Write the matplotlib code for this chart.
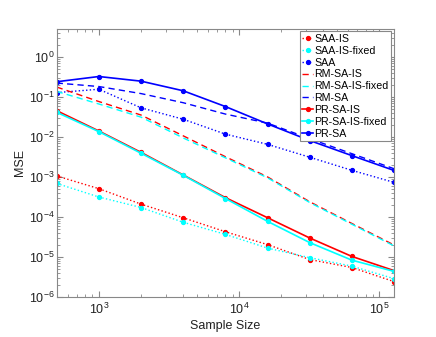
import matplotlib
matplotlib.use("Agg")
import matplotlib.pyplot as plt
from matplotlib.ticker import LogLocator, NullFormatter

plt.rcParams['font.family'] = ['Liberation Sans', 'DejaVu Sans']
plt.rcParams['mathtext.fontset'] = 'custom'
plt.rcParams['mathtext.rm'] = 'Liberation Sans'
plt.rcParams['mathtext.it'] = 'Liberation Sans:italic'
plt.rcParams['mathtext.bf'] = 'Liberation Sans:bold'

sample_sizes = [500, 1000, 2000, 4000, 8000, 16000, 32000, 64000, 128000]

saa_is = [1.06e-3, 5.1e-4, 2.1e-4, 9.6e-5, 4.3e-5, 2.05e-5, 8.7e-6, 5.5e-6, 2.45e-6]
saa_is_fixed = [6.9e-4, 3.16e-4, 1.73e-4, 7.4e-5, 3.7e-5, 1.68e-5, 9.7e-6, 5.96e-6, 2.9e-6]
saa = [0.127, 0.154, 0.053, 0.0275, 0.0117, 0.0065, 0.0031, 0.00146, 0.00073]
rm_sa_is = [0.175, 0.076, 0.035, 0.0106, 0.0032, 0.001, 2.4e-4, 6.9e-5, 2.0e-5]
rm_sa_is_fixed = [0.136, 0.066, 0.031, 0.0094, 0.003, 9.5e-4, 2.3e-4, 6.6e-5, 1.9e-5]
rm_sa = [0.22, 0.18, 0.12, 0.071, 0.037, 0.022, 0.009, 0.0038, 0.0016]
pr_sa_is = [0.045, 0.014, 0.0041, 1.12e-3, 3.05e-4, 9.6e-5, 3.0e-5, 1.04e-5, 4.6e-6]
pr_sa_is_fixed = [0.041, 0.0135, 0.0039, 1.1e-3, 2.9e-4, 7.8e-5, 2.3e-5, 8.4e-6, 4.4e-6]
pr_sa = [0.237, 0.32, 0.245, 0.141, 0.057, 0.021, 0.0081, 0.0034, 0.00145]

series = [
    ("SAA-IS", saa_is, "#ff0000", ":", "o"),
    ("SAA-IS-fixed", saa_is_fixed, "#00ffff", ":", "o"),
    ("SAA", saa, "#0000ff", ":", "o"),
    ("RM-SA-IS", rm_sa_is, "#ff0000", "--", None),
    ("RM-SA-IS-fixed", rm_sa_is_fixed, "#00ffff", "--", None),
    ("RM-SA", rm_sa, "#0000ff", "--", None),
    ("PR-SA-IS", pr_sa_is, "#ff0000", "-", "o"),
    ("PR-SA-IS-fixed", pr_sa_is_fixed, "#00ffff", "-", "o"),
    ("PR-SA", pr_sa, "#0000ff", "-", "o"),
]

fig = plt.figure(figsize=(4.36, 3.37), dpi=100)
ax = fig.add_axes([0.13, 0.118, 0.774, 0.797])

for name, vals, col, ls, mk in series:
    lw = 1.2 if ls == "-" else 1.0
    kw = {}
    if ls == "--":
        kw["dashes"] = (4.5, 3)
    ax.plot(sample_sizes, vals, color=col, linestyle=ls, linewidth=lw,
            marker=mk, markersize=2.8, label=name, **kw)

ax.set_xscale("log")
ax.set_yscale("log")
ax.set_xlim(500, 128000)
ax.set_ylim(1e-6, 5)

ax.set_yticks([1e-6, 1e-5, 1e-4, 1e-3, 1e-2, 1e-1, 1e0])
ax.set_xticks([1e3, 1e4, 1e5])
ax.xaxis.set_minor_locator(LogLocator(base=10, subs=range(2, 10), numticks=20))
ax.yaxis.set_minor_locator(LogLocator(base=10, subs=range(2, 10), numticks=20))
ax.xaxis.set_minor_formatter(NullFormatter())
ax.yaxis.set_minor_formatter(NullFormatter())

ax.tick_params(which="both", direction="in", top=True, right=True,
               colors="#888888", labelcolor="#222222", labelsize=9)
ax.tick_params(axis="y", which="both", pad=1.5)
ax.tick_params(which="major", length=4)
ax.tick_params(which="minor", length=2)
for s in ax.spines.values():
    s.set_color("#888888")
    s.set_linewidth(0.8)

ax.set_xlabel("Sample Size", fontsize=9, color="#222222", labelpad=2)
ax.set_ylabel("MSE", fontsize=9, color="#222222", labelpad=2)

leg = ax.legend(loc="upper right", fontsize=7.7, numpoints=1, handlelength=1.0,
                handletextpad=0.15, labelspacing=0.17, borderpad=0.25,
                borderaxespad=0.25, fancybox=False, framealpha=1)
leg.get_frame().set_edgecolor("#888888")
leg.get_frame().set_linewidth(0.8)

fig.savefig("out.png", dpi=100)
